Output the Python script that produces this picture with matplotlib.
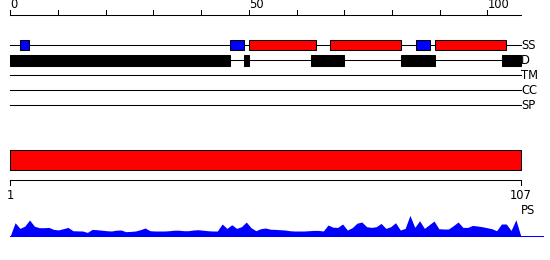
import matplotlib
matplotlib.use("Agg")
import matplotlib.pyplot as plt
import numpy as np

# -----------------------------------------------------------------------------
# Data
# -----------------------------------------------------------------------------
seq_len = 107
ruler_ticks = list(range(0, 101, 10))
ruler_labels = {0: "0", 50: "50", 100: "100"}

track_names = ["SS", "D", "TM", "CC", "SP"]
ss_helix = [(50, 64), (67, 82), (89, 104)]
ss_strand = [(2, 4), (46, 49), (85, 88)]
disorder = [(0, 46), (49, 50), (63, 70), (82, 89), (103, 107)]

domain = (1, 107)
ps_ends = [1, 107]

# PS profile, one value per residue
ps = [0, 13, 7.3, 9.5, 15.7, 9.5, 8, 8, 8.3, 6.3,
      5.8, 7, 8.3, 5, 4.8, 4.7, 3.3, 6.3, 6, 5.5,
      5, 4.7, 5.5, 5.7, 4, 4.3, 4.7, 6, 7.7, 5,
      4.7, 4.7, 4.7, 5, 5.5, 5.5, 5, 5, 5.7, 6,
      5.5, 5, 4.7, 4.7, 11.7, 7.3, 11, 7.3, 9, 13.7,
      8, 5, 7, 7.7, 6.5, 6.3, 6, 5.7, 5, 4.7,
      4.7, 4.7, 5, 5.3, 5.3, 4.7, 10.7, 8.5, 8.3, 11.7,
      5.7, 8, 12.5, 13.7, 9, 8.3, 9, 12.3, 7.3, 9,
      13, 5.7, 7.3, 20.3, 8.3, 15, 7.3, 11, 14.7, 7,
      6.7, 6.7, 10, 13.7, 8.3, 8.3, 10.3, 9.7, 9, 8,
      7, 5, 11.7, 11.7, 5.3, 16, 0]

# -----------------------------------------------------------------------------
# Layout (pixel rows, figure is 550x260)
# -----------------------------------------------------------------------------
W, H = 550, 260
x0_px = 10.3
x1_px = 520.7
ruler_y = 15
track_y0 = 45.2
track_dy = 15.0
box_h = 10.3
dom_top, dom_bot = 150.3, 170.3
scale_y = 180.3
ps_base = 235.7

lw = 0.75
fs = 8.3
RED = "#ff0000"
BLUE = "#0000ff"

fig = plt.figure(figsize=(5.5, 2.6), dpi=100)

# top part: positions 0..107
ax = fig.add_axes([0, 0, 1, 1])
k = (x1_px - x0_px) / seq_len
ax.set_xlim(-x0_px / k, (W - x0_px) / k)
ax.set_ylim(H, 0)
ax.axis("off")

ax.plot([0, seq_len], [ruler_y, ruler_y], color="black", lw=lw)
for t in ruler_ticks:
    ax.plot([t, t], [ruler_y - 4.7, ruler_y], color="black", lw=lw)
    if t in ruler_labels:
        ax.text(t, ruler_y - 3.5, ruler_labels[t], ha="left", va="bottom",
                fontsize=fs, color="black")

for i, name in enumerate(track_names):
    y = track_y0 + i * track_dy
    ax.plot([0, seq_len], [y, y], color="black", lw=lw, zorder=1)
    ax.text(seq_len + 0.05, y, name, ha="left", va="center", fontsize=fs)

y_ss = track_y0
for s, e in ss_strand:
    ax.barh(y_ss, e - s, left=s, height=box_h, color=BLUE,
            edgecolor="black", lw=lw, zorder=2)
for s, e in ss_helix:
    ax.barh(y_ss, e - s, left=s, height=box_h, color=RED,
            edgecolor="black", lw=lw, zorder=2)
y_d = track_y0 + track_dy
for s, e in disorder:
    ax.barh(y_d, e - s, left=s, height=box_h + 0.4, color="black",
            edgecolor="black", lw=lw, zorder=2)

# bottom part: residues 1..107
ax2 = fig.add_axes([0, 0, 1, 1])
ax2.patch.set_alpha(0)
k2 = (x1_px - x0_px) / (seq_len - 1)
ax2.set_xlim(1 - x0_px / k2, 1 + (W - x0_px) / k2)
ax2.set_ylim(H, 0)
ax2.axis("off")

ax2.barh((dom_top + dom_bot) / 2, domain[1] - domain[0], left=domain[0],
         height=dom_bot - dom_top, color=RED, edgecolor="black", lw=lw)

ax2.plot([1, seq_len], [scale_y, scale_y], color="black", lw=lw)
for t in ps_ends:
    ax2.plot([t, t], [scale_y, scale_y + 4.7], color="black", lw=lw)
    ax2.text(t, scale_y + 8.5, str(t), ha="center", va="top", fontsize=fs)
ax2.text(seq_len, 210.5, "PS", ha="left", va="center", fontsize=fs)

res = np.arange(1, seq_len + 1)
vals = np.array(ps)
ax2.fill_between(res, ps_base, ps_base - vals, color=BLUE, lw=0)
ax2.plot([1, 1 + (543 - x0_px) / k2], [ps_base, ps_base], color=BLUE, lw=lw)

fig.savefig("out.png", dpi=100)
